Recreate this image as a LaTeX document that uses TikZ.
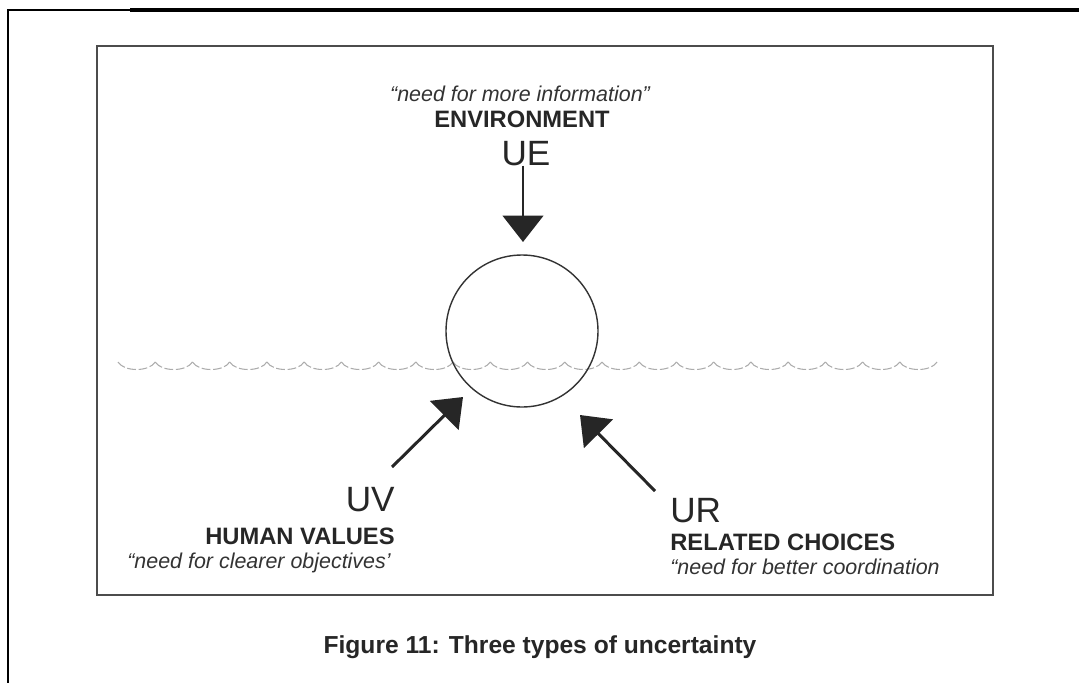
\documentclass[tikz,border=0pt]{standalone}
\usepackage{fontspec}
\setmainfont{Liberation Sans}
\usepackage{tikz}
\usetikzlibrary{arrows.meta,positioning,calc}
\tikzset{
  %% Label texts
  ucQuote/.style={font=\fontsize{12.2}{14}\selectfont\itshape, text=black!80, inner sep=0pt},
  ucName/.style={font=\fontsize{13.5}{15}\selectfont\bfseries, text=black!85, inner sep=0pt},
  ucCode/.style={font=\fontsize{20}{22}\selectfont, text=black!85, inner sep=0pt},
  ucCaption/.style={font=\fontsize{14}{16}\selectfont\bfseries, text=black!85, inner sep=0pt},
  %% Big pointing arrows
  ucArrow/.style={-{Triangle[length=15pt, width=23pt]}, line width=1.7pt, black!85},
  %% Wave line
  ucWave/.style={gray!65, line width=0.6pt, dash pattern=on 5pt off 1.5pt},
}

\begin{document}
\begin{tikzpicture}[x=0.02cm, y=-0.02cm]
\useasboundingbox (0,0) rectangle (1079,683);

%% Frames
\draw[line width=1.2pt] (8,683) -- (8,10) -- (130,10);
\draw[line width=2pt] (130,10) -- (1079,10);
\draw[black!70, line width=0.9pt] (97,46) rectangle (993,595);

%% Surface line
\foreach \i in {0,...,21}
  \draw[ucWave] ({118+37.23*\i},362) .. controls ({124+37.23*\i},372) and ({149+37.23*\i},372) .. ({155.23+37.23*\i},362);

%% Circle
\node[draw, circle, black!80, line width=0.8pt, minimum size=152*0.02cm, inner sep=0pt] (circ) at (522,331) {};

%% Environment
\node[ucQuote, anchor=base] (qUE) at (520,101) {``need for more information''};
\node[ucName, anchor=base] (nUE) at (522,127) {ENVIRONMENT};
\node[ucCode, anchor=base] (cUE) at (526,165) {UE};

%% Human values
\node[ucCode, anchor=base east] (cUV) at (395,511) {UV};
\node[ucName, anchor=base east] (nUV) at (395,544) {HUMAN VALUES};
\node[ucQuote, anchor=base east] (qUV) at (391,568) {``need for clearer objectives'};

%% Related choices
\node[ucCode, anchor=base west] (cUR) at (670,522) {UR};
\node[ucName, anchor=base west] (nUR) at (670,550) {RELATED CHOICES};
\node[ucQuote, anchor=base west] (qUR) at (670,574) {``need for better coordination};

%% Arrows
\coordinate (ueTip) at (523,242);
\coordinate (uvTail) at (392,467);
\coordinate (uvTip) at (463,397);
\coordinate (urTail) at (655,491);
\coordinate (urTip) at (580,415);
\draw[ucArrow] (cUE.south -| ueTip) -- (ueTip);
\draw[ucArrow] (uvTail) -- (uvTip);
\draw[ucArrow] (urTail) -- (urTip);

%% Caption
\node[ucCaption, anchor=base] (capt) at (540,653) {Figure 11: Three types of uncertainty};

\end{tikzpicture}
\end{document}
